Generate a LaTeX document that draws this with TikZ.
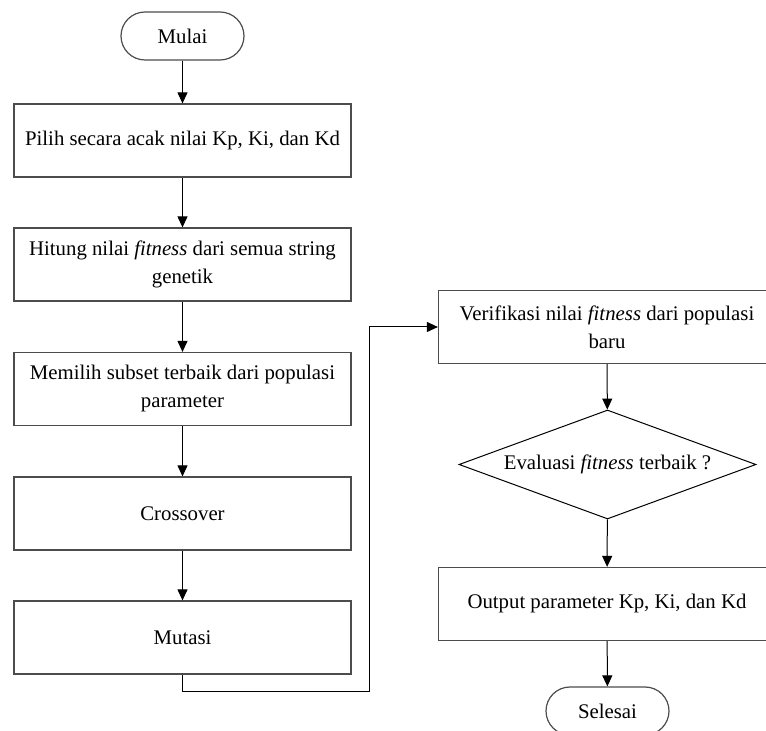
\documentclass[tikz,border=0pt]{standalone}
\usepackage{fontspec}
\setmainfont{Liberation Serif}
\usetikzlibrary{arrows.meta,shapes.geometric}

\tikzset{
	flowLine/.style={-{Triangle[width=5pt,length=5.5pt]},line width=0.5pt,black},
	baseText/.style={font=\fontsize{10.4}{14}\selectfont},
	procBox/.style={baseText,draw=black!70,line width=0.6pt,minimum width=168.5pt,minimum height=36.5pt,text width=160pt,align=flush center,inner sep=0pt},
	termBox/.style={baseText,draw=black!70,line width=0.6pt,rounded corners=12pt,minimum width=61.5pt,minimum height=24pt,inner sep=0pt},
	decBox/.style={baseText,diamond,draw=black,line width=0.5pt,aspect=2.72,minimum width=148.5pt,minimum height=54.5pt,inner sep=0pt}
}

\begin{document}
\begin{tikzpicture}[x=0.5pt,y=-0.5pt] % one unit = one pixel of the reference
		\useasboundingbox (0,0) rectangle (766,731);
		
		% left column
		\node[termBox] (mulai) at (182.5,36) {Mulai};
		\node[procBox] (pilih) at (182.5,140.5) {Pilih secara acak nilai Kp, Ki, dan Kd};
		\node[procBox] (hitung) at (182.5,264.5) {Hitung nilai \textit{fitness} dari semua string genetik};
		\node[procBox] (memilih) at (182.5,389) {Memilih subset terbaik dari populasi parameter};
		\node[procBox] (crossover) at (182.5,513.5) {Crossover};
		\node[procBox] (mutasi) at (182.5,637.5) {Mutasi};
		
		% right column
		\node[procBox] (verifikasi) at (607,327) {Verifikasi nilai \textit{fitness} dari populasi baru};
		\node[decBox] (evaluasi) at (607.5,464.5) {Evaluasi \textit{fitness} terbaik ?};
		\node[procBox] (output) at (607,604) {Output parameter Kp, Ki, dan Kd};
		\node[termBox] (selesai) at (607.5,711) {Selesai};
		
		% arrows
		\draw[flowLine] (mulai) -- (pilih);
		\draw[flowLine] (pilih) -- (hitung);
		\draw[flowLine] (hitung) -- (memilih);
		\draw[flowLine] (memilih) -- (crossover);
		\draw[flowLine] (crossover) -- (mutasi);
		
		\coordinate (loopCorner) at (369,692);	% bottom right bend
		\draw[flowLine] (mutasi.south) |- (loopCorner) |- (verifikasi.west);
		
		\draw[flowLine] (verifikasi) -- (evaluasi);
		\draw[flowLine] (evaluasi) -- (output);
		\draw[flowLine] (output) -- (selesai);
\end{tikzpicture}
\end{document}
